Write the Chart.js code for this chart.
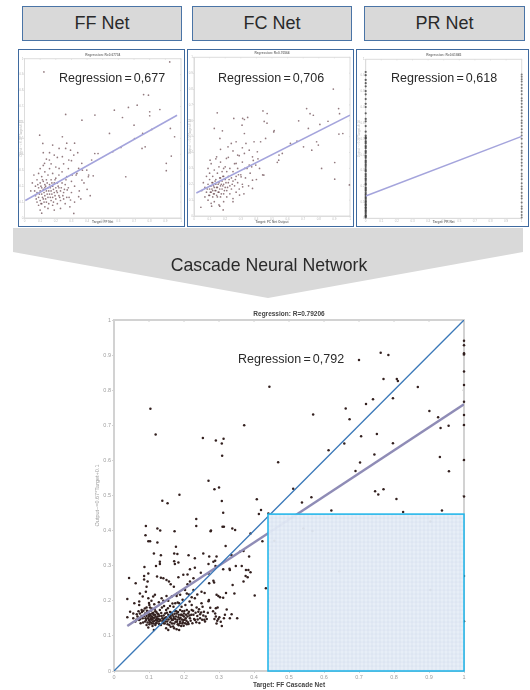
<!DOCTYPE html>
<html>
<head>
<meta charset="utf-8">
<script src="https://cdn.jsdelivr.net/npm/chart.js@4/dist/chart.umd.min.js"></script>
<style>
  html, body { margin: 0; padding: 0; background: #fff; }
  body { width: 530px; height: 690px; position: relative; overflow: hidden; font-family: "Liberation Sans", Arial, sans-serif; color: #1c1c1c; }
  canvas { position: absolute; }
  canvas.small { filter: blur(0.7px); }
  canvas.big { filter: blur(0.45px); }
  .head { position: absolute; top: 6px; height: 33px; box-sizing: content-box; background: #d9d9d9; border: 1.5px solid #4a74a6; font-size: 18px; line-height: 33px; text-align: center; color: #2a2a2a; }
  .panel { position: absolute; top: 48.5px; height: 176px; border: 1.5px solid #3f6a9f; pointer-events: none; }
  .reg { position: absolute; font-size: 12.5px; word-spacing: -1.3px; white-space: nowrap; line-height: 16px; color: #2a2a2a; }
  #arrow { position: absolute; left: 13px; top: 228px; width: 510px; height: 70px; background: #d9d9d9; clip-path: polygon(0 0, 100% 0, 100% 24px, 50% 100%, 0 24px); }
  #arrowText { position: absolute; left: 14px; top: 254px; width: 510px; text-align: center; font-size: 17.7px; line-height: 22px; color: #2a2a2a; }
</style>
</head>
<body>
<div class="head" style="left:22px;width:158px">FF Net</div>
<div class="head" style="left:192px;width:158px">FC Net</div>
<div class="head" style="left:364px;width:159px">PR Net</div>

<canvas id="ffChart" class="small" width="166" height="175" style="left:19px;top:50px"></canvas>
<canvas id="fcChart" class="small" width="166" height="175" style="left:188px;top:50px"></canvas>
<canvas id="prChart" class="small" width="171" height="175" style="left:357px;top:50px"></canvas>
<div class="panel" style="left:18px;width:165px"></div>
<div class="panel" style="left:187px;width:165px"></div>
<div class="panel" style="left:356px;width:171px"></div>

<div class="reg" style="left:59px;top:70px">Regression = 0,677</div>
<div class="reg" style="left:218px;top:70px">Regression = 0,706</div>
<div class="reg" style="left:391px;top:70px">Regression = 0,618</div>

<div id="arrow"></div>
<div id="arrowText">Cascade Neural Network</div>

<canvas id="mainChart" class="big" width="386" height="385" style="left:94px;top:305px"></canvas>
<div class="reg" style="left:238px;top:351px">Regression = 0,792</div>

<script>
const tickValues = [0, 0.1, 0.2, 0.3, 0.4, 0.5, 0.6, 0.7, 0.8, 0.9, 1];
const tickLabels = ['0', '0.1', '0.2', '0.3', '0.4', '0.5', '0.6', '0.7', '0.8', '0.9', '1'];

// main cascade plot
const mainOuter = [
  [.043,.265],[.062,.250],[.086,.271],[.086,.261],[.098,.278],[.096,.255],[.093,.240],[.091,.226],[.038,.205],[.046,.169],
  [.038,.153],[.058,.193],[.055,.164],[.074,.221],[.082,.212],[.072,.198],[.072,.188],[.079,.174],[.098,.207],[.101,.188],
  [.112,.212],[.117,.217],[.091,.413],[.090,.387],[.098,.370],[.103,.370],[.124,.406],[.132,.400],[.124,.366],[.114,.335],
  [.134,.330],[.131,.311],[.131,.305],[.120,.299],[.087,.296],[.123,.269],[.134,.266],[.141,.264],[.138,.485],[.153,.478],
  [.187,.502],[.173,.398],[.177,.354],[.172,.335],[.181,.333],[.235,.433],[.235,.413],[.276,.398],[.277,.400],[.308,.484],
  [.312,.451],[.310,.411],[.314,.411],[.338,.406],[.346,.402],[.319,.356],[.390,.392],[.408,.489],[.420,.459],[.414,.447],
  [.441,.449],[.424,.370],[.434,.236],[.402,.215],[.213,.330],[.231,.321],[.255,.335],[.272,.326],[.270,.305],[.293,.326],
  [.289,.314],[.284,.311],[.290,.299],[.312,.290],[.330,.291],[.331,.288],[.348,.299],[.365,.299],[.336,.330],[.360,.340],
  [.370,.342],[.386,.326],[.377,.288],[.384,.288],[.390,.281],[.376,.271],[.382,.267],[.370,.255],[.339,.245],[.344,.221],
  [.303,.210],[.293,.217],[.298,.214],[.284,.257],[.286,.252],[.270,.278],[.272,.250],[.248,.280],[.250,.226],[.271,.202],
  [.231,.294],[.217,.290],[.210,.275],[.198,.274],[.184,.267],[.172,.313],[.174,.305],[.184,.309],[.150,.259],[.157,.255],
  [.162,.247],[.171,.240],[.227,.264],[.217,.255],[.210,.247],[.181,.221],[.189,.217],[.208,.221],[.214,.218],[.203,.231],
  [.179,.214],[.165,.212],[.150,.214],[.136,.207],[.227,.231],[.222,.210],[.231,.207],[.250,.193],[.270,.199],[.291,.179],
  [.296,.181],[.312,.209]
];
const mainDense = [
  [.084,.172],[.089,.164],[.093,.157],[.098,.169],[.103,.162],[.108,.155],[.112,.166],[.117,.160],[.122,.150],[.127,.162],
  [.131,.174],[.136,.157],[.141,.145],[.146,.164],[.082,.150],[.089,.141],[.093,.131],[.100,.145],[.106,.138],[.110,.128],
  [.114,.117],[.098,.124],[.120,.136],[.128,.141],[.134,.131],[.141,.136],[.149,.153],[.152,.141],[.158,.131],[.162,.157],
  [.168,.145],[.172,.122],[.179,.119],[.186,.117],[.154,.179],[.160,.185],[.170,.183],[.175,.193],[.179,.164],[.184,.153],
  [.189,.141],[.193,.160],[.198,.145],[.203,.136],[.208,.133],[.213,.134],[.217,.150],[.212,.164],[.208,.174],[.204,.188],
  [.222,.174],[.227,.160],[.231,.145],[.236,.181],[.241,.169],[.246,.162],[.253,.183],[.257,.169],[.262,.155],[.260,.141],
  [.246,.150],[.238,.157],[.289,.164],[.291,.155],[.295,.143],[.301,.153],[.308,.128],[.314,.150],[.336,.162],[.352,.150],
  [.331,.150],[.067,.155],[.072,.145],[.065,.162],[.055,.150],[.061,.141],[.074,.164],[.079,.157],[.076,.136],[.149,.122],
  [.155,.117],[.162,.126],[.131,.147],[.124,.164],[.137,.181],[.143,.185],[.149,.174],[.165,.166],[.174,.172],[.189,.174],
  [.193,.183],[.200,.164],[.222,.188],[.186,.193],[.103,.181],[.108,.178],[.116,.176],[.093,.181],[.100,.155],[.105,.150],
  [.110,.147],[.115,.152],[.120,.145],[.102,.140],[.108,.135],[.097,.150],[.112,.141],[.118,.170],[.125,.155],[.095,.165],
  [.090,.150],[.105,.172],[.113,.160],[.122,.137],[.170,.155],[.175,.148],[.180,.140],[.185,.160],[.190,.152],[.195,.170],
  [.200,.155],[.205,.150],[.172,.135],[.178,.170],[.165,.145],[.195,.135],[.185,.130],[.160,.168],[.138,.150],[.145,.135],
  [.150,.148],[.155,.160]
];
// second pass over the dark band
const mainBand = [
  [.092,.145],[.096,.138],[.099,.160],[.101,.133],[.104,.158],[.106,.146],[.109,.164],[.111,.152],[.113,.135],[.116,.143],
  [.118,.131],[.119,.155],[.121,.168],[.123,.143],[.126,.148],[.129,.134],[.130,.157],[.133,.144],[.135,.165],[.139,.141],
  [.142,.158],[.144,.150],[.147,.141],[.151,.166],[.153,.133],[.156,.147],[.159,.154],[.161,.139],[.163,.150],[.166,.135],
  [.167,.160],[.169,.127],[.171,.150],[.173,.163],[.176,.140],[.177,.155],[.181,.146],[.182,.133],[.183,.168],[.187,.148],
  [.188,.136],[.191,.160],[.192,.128],[.194,.147],[.196,.158],[.197,.139],[.199,.129],[.201,.171],[.202,.146],[.206,.160],
  [.207,.143],[.210,.155],[.211,.139],[.214,.169],[.216,.158],[.219,.143],[.221,.160],[.224,.136],[.226,.172],[.229,.148],
  [.233,.166],[.235,.139],[.239,.147],[.243,.176],[.244,.137],[.249,.167],[.252,.146],[.255,.158],[.258,.146],[.265,.148],
  [.268,.166],[.287,.148],[.283,.170],[.293,.135],[.298,.148],[.305,.140],[.317,.160],[.322,.175],[.075,.148],[.070,.170],
  [.064,.146],[.083,.138],[.086,.157],[.080,.168],[.088,.178],[.094,.172],[.100,.194],[.107,.200],[.115,.190],[.128,.196],
  [.141,.200],[.155,.200],[.167,.192],[.182,.195],[.196,.203],[.216,.198],[.238,.218],[.259,.222],[.275,.180],[.320,.222]
];
const mainUpper = [
  [.762,.907],[.784,.900],[.700,.886],[.770,.832],[.808,.832],[.811,.826],[.868,.809],[.797,.777],[.740,.774],[.720,.761],
  [.662,.748],[.901,.741],[.926,.723],[.569,.731],[.673,.717],[.933,.692],[.956,.699],[.706,.669],[.751,.675],[.658,.648],
  [.797,.649],[.613,.629],[.744,.617],[.931,.610],[.469,.595],[.703,.594],[.690,.570],[.957,.569],[.512,.519],[.746,.512],
  [.755,.503],[.770,.518],[.807,.490],[.564,.495],[.537,.480],[.621,.457],[.826,.453],[.937,.457],[.104,.747],[.119,.674],
  [.254,.664],[.291,.657],[.308,.648],[.313,.662],[.309,.613],[.270,.542],[.287,.518],[.300,.523],[.444,.810],[.372,.700],
  [.458,.371],[.541,.406],[.567,.399],[.644,.284],[.904,.426],[.904,.231]
];
const mainEdge = [
  [1,.941],[1,.928],[1,.905],[1,.902],[1,.853],[1,.815],[1,.767],[1,.729],[1,.701],[1,.601],[1,.497],[1,.271],[1,.142]
];
const mainFitX = [0.038, 1];
const mainFitY = [0.128, 0.76];
const idealX = [0, 1];
const idealY = [0, 1];
const shadeX = [0.44, 1];
const shadeY = [0, 0.447];

// FF Net panel
const ffPoints = [
  [.124,.917],[.263,.650],[.367,.614],[.450,.646],[.574,.677],[.664,.694],[.720,.708],[.865,.681],[.800,.667],[.800,.642],
  [.626,.631],[.700,.583],[.703,.499],[.755,.531],[.813,.556],[.932,.562],[.959,.510],[.751,.437],[.771,.447],[.938,.389],
  [.906,.343],[.906,.297],[.761,.775],[.792,.771],[.928,.980],[.543,.531],[.564,.416],[.616,.443],[.647,.259],[.470,.405],
  [.449,.405],[.429,.364],[.366,.343],[.346,.311],[.398,.301],[.408,.259],[.439,.265],[.346,.134],[.315,.029],[.294,.113],
  [.273,.176],[.367,.238],[.335,.280],[.242,.510],[.097,.520],[.117,.468],[.180,.458],[.221,.437],[.263,.437],[.294,.426],
  [.315,.395],[.283,.364],[.242,.385],[.190,.395],[.159,.364],[.128,.343],[.221,.311],
  [.04,.17],[.05,.22],[.06,.27],[.07,.14],[.07,.20],[.08,.10],[.08,.16],[.08,.24],[.09,.08],[.09,.13],[.09,.19],[.09,.28],
  [.10,.05],[.10,.11],[.10,.17],[.10,.22],[.10,.31],[.11,.03],[.11,.09],[.11,.15],[.11,.19],[.11,.26],[.12,.12],[.12,.18],
  [.12,.23],[.12,.33],[.13,.07],[.13,.14],[.13,.19],[.13,.21],[.13,.29],[.14,.10],[.14,.17],[.14,.24],[.14,.37],[.15,.06],
  [.15,.13],[.15,.19],[.15,.27],[.16,.15],[.16,.21],[.16,.31],[.17,.11],[.17,.17],[.17,.24],[.17,.34],[.18,.08],[.18,.13],
  [.18,.20],[.18,.28],[.19,.05],[.19,.16],[.19,.22],[.20,.12],[.20,.19],[.20,.25],[.20,.32],[.21,.09],[.21,.16],[.21,.22],
  [.22,.14],[.22,.19],[.22,.27],[.23,.06],[.23,.11],[.23,.17],[.24,.22],[.24,.29],[.25,.12],[.25,.16],[.25,.34],[.26,.09],
  [.26,.21],[.27,.13],[.27,.26],[.28,.19],[.28,.31],[.29,.07],[.30,.16],[.30,.23],[.32,.10],[.32,.20],[.33,.27],[.35,.17],
  [.36,.12],[.38,.22],[.40,.18],[.42,.14],
  [.065,.17],[.075,.12],[.085,.21],[.095,.15],[.105,.09],[.105,.20],[.115,.13],[.115,.24],[.125,.16],[.125,.10],[.135,.20],
  [.135,.12],[.145,.15],[.145,.22],[.155,.09],[.155,.17],[.165,.19],[.165,.13],[.175,.22],[.175,.15],[.185,.18],[.185,.10],
  [.195,.14],[.195,.24],[.205,.17],[.215,.20],[.225,.13],[.235,.19],[.245,.14],[.255,.18],[.265,.24],[.285,.13],[.305,.27],
  [.37,.30],[.41,.27],[.30,.36],[.34,.41],[.21,.38],[.16,.41],[.27,.47],[.32,.47],[.12,.41]
];
const ffFitX = [0.005, 0.975];
const ffFitY = [0.11, 0.645];

// FC Net panel
const fcPoints = [
  [.149,.650],[.255,.615],[.312,.615],[.344,.621],[.130,.552],[.308,.572],[.323,.608],[.442,.662],[.469,.646],[.511,.530],
  [.166,.489],[.182,.537],[.323,.520],[.270,.468],[.333,.457],[.385,.468],[.427,.468],[.459,.489],[.239,.457],[.218,.436],
  [.354,.415],[.406,.405],[.375,.373],[.323,.394],[.280,.384],[.145,.373],[.103,.352],[.208,.363],[.270,.331],[.354,.321],
  [.396,.321],[.448,.258],[.375,.226],[.302,.247],[.543,.352],[.044,.055],[.187,.038],[.113,.062],[.165,.062],[.375,.174],
  [.312,.184],[.292,.132],[.250,.090],[.893,.800],[.927,.677],[.933,.645],[.722,.677],[.744,.645],[.765,.635],[.671,.600],
  [.733,.552],[.807,.577],[.859,.597],[.514,.538],[.450,.596],[.468,.585],[.929,.516],[.954,.520],[.618,.457],[.702,.436],
  [.755,.415],[.786,.468],[.797,.447],[.660,.472],[.566,.394],[.545,.384],[.534,.338],[.902,.337],[.902,.232],[.996,.196],
  [.440,.259],[.818,.300],
  [.05,.16],[.06,.21],[.07,.12],[.07,.18],[.08,.25],[.08,.15],[.09,.20],[.09,.10],[.09,.30],[.10,.17],[.10,.13],[.10,.23],
  [.10,.27],[.11,.19],[.11,.08],[.11,.15],[.11,.33],[.12,.21],[.12,.16],[.12,.12],[.12,.25],[.13,.18],[.13,.14],[.13,.29],
  [.13,.09],[.14,.20],[.14,.16],[.14,.36],[.14,.23],[.15,.12],[.15,.18],[.15,.27],[.16,.15],[.16,.21],[.16,.31],[.16,.07],
  [.17,.19],[.17,.24],[.17,.12],[.17,.34],[.18,.17],[.18,.22],[.18,.28],[.19,.14],[.19,.20],[.19,.25],[.19,.09],[.20,.18],
  [.20,.23],[.20,.31],[.21,.16],[.21,.28],[.21,.12],[.22,.21],[.22,.25],[.22,.37],[.23,.19],[.23,.14],[.23,.30],[.24,.24],
  [.24,.17],[.25,.22],[.25,.28],[.25,.11],[.26,.33],[.26,.19],[.27,.25],[.27,.15],[.28,.21],[.28,.30],[.29,.38],[.29,.17],
  [.30,.26],[.31,.20],[.31,.34],[.32,.14],[.33,.24],[.34,.30],[.35,.19],[.36,.27],[.38,.35],[.40,.23],[.42,.30],
  [.085,.17],[.095,.13],[.105,.19],[.105,.15],[.115,.21],[.115,.17],[.125,.14],[.125,.19],[.135,.16],[.135,.22],[.145,.18],
  [.145,.13],[.155,.20],[.155,.15],[.165,.17],[.165,.24],[.175,.14],[.175,.20],[.185,.25],[.185,.19],[.195,.16],[.205,.21],
  [.215,.18],[.225,.23],[.245,.20],[.265,.23],[.285,.26],[.325,.30],[.37,.31],[.41,.36],[.17,.42],[.25,.41],[.31,.43],[.19,.30]
];
const fcFitX = [0.015, 1];
const fcFitY = [0.145, 0.635];

// PR Net panel: outputs pile up at target 0 and target 1
const prLeftY = [
  .005,.012,.02,.03,.038,.05,.058,.07,.08,.09,.098,.11,.12,.135,.145,.16,.172,.18,.195,.21,.222,.235,.25,.262,.28,.295,
  .31,.322,.34,.35,.365,.38,.395,.41,.425,.44,.455,.47,.485,.5,.51,.52,.545,.58,.61,.625,.66,.70,.72,.75,.78,.80,.83,.85,.87,.90,.92,
  .015,.045,.065,.085,.105,.128,.152,.188,.215,.245,.272,.302,.332,.358,.388,.418,.448,.478,.505
];
const prRightY = [
  .005,.02,.04,.06,.075,.1,.125,.14,.16,.185,.2,.22,.245,.265,.28,.305,.33,.35,.37,.39,.41,.425,.45,.47,.5,.52,.54,.56,.58,
  .6,.615,.64,.66,.68,.7,.72,.74,.755,.78,.8,.82,.84,.86,.875,.89,.905
];
const prFitX = [0, 1];
const prFitY = [0.14, 0.515];

const toXY = rows => rows.map(r => ({ x: r[0], y: r[1] }));
const zipXY = (xs, ys) => xs.map((x, i) => ({ x: x, y: ys[i] }));

// grey box round the plot with the little inner ticks along the top
const framePlugin = {
  id: 'frame',
  beforeDatasetsDraw(chart, args, opts) {
    const { ctx, chartArea: a, scales } = chart;
    ctx.save();
    ctx.strokeStyle = opts.color;
    ctx.lineWidth = opts.width;
    ctx.strokeRect(a.left, a.top, a.right - a.left, a.bottom - a.top);
    ctx.lineWidth = 1;
    ctx.beginPath();
    tickValues.forEach(v => {
      const px = scales.x.getPixelForValue(v);
      ctx.moveTo(px, a.top);
      ctx.lineTo(px, a.top + opts.tick);
      const py = scales.y.getPixelForValue(v);
      ctx.moveTo(a.right, py);
      ctx.lineTo(a.right - opts.tick, py);
    });
    ctx.stroke();
    ctx.restore();
  }
};

// the pale squared box over the lower right of the main plot
const shadePlugin = {
  id: 'shade',
  afterDatasetsDraw(chart) {
    if (chart.canvas.id !== 'mainChart') return;
    const { ctx, scales } = chart;
    const x0 = scales.x.getPixelForValue(shadeX[0]);
    const x1 = scales.x.getPixelForValue(shadeX[1]);
    const y0 = scales.y.getPixelForValue(shadeY[1]);
    const y1 = scales.y.getPixelForValue(shadeY[0]);
    ctx.save();
    ctx.fillStyle = 'rgba(230,237,247,0.94)';
    ctx.fillRect(x0, y0, x1 - x0, y1 - y0);
    ctx.strokeStyle = 'rgba(205,218,238,0.8)';
    ctx.lineWidth = 0.5;
    ctx.beginPath();
    for (let x = x0; x < x1; x += 4) { ctx.moveTo(x, y0); ctx.lineTo(x, y1); }
    for (let y = y0; y < y1; y += 4) { ctx.moveTo(x0, y); ctx.lineTo(x1, y); }
    ctx.stroke();
    ctx.strokeStyle = '#1db5ea';
    ctx.lineWidth = 1.5;
    ctx.strokeRect(x0, y0, x1 - x0, y1 - y0);
    ctx.restore();
  }
};

function makeChart(id, datasets, text, look) {
  const canvas = document.getElementById(id);
  const axis = (isX) => ({
    type: 'linear',
    min: 0,
    max: 1,
    afterBuildTicks: s => { s.ticks = tickValues.map(v => ({ value: v })); },
    afterFit: s => {
      if (isX) s.height = canvas.height - look.bottom;
      else s.width = look.left;
    },
    grid: { drawOnChartArea: false, drawTicks: true, tickLength: look.tick, color: look.frame },
    border: { color: look.frame, width: look.axisWidth },
    ticks: {
      autoSkip: false,
      maxRotation: 0,
      minRotation: 0,
      padding: look.tickPad,
      color: look.tickColor,
      font: { size: look.tickFont, family: 'Liberation Sans' },
      callback: (v) => tickLabels[tickValues.indexOf(v)]
    },
    title: {
      display: true,
      text: isX ? text.x : text.y,
      color: isX ? look.titleColor : look.tickColor,
      font: { size: isX ? look.titleFont : look.tickFont, weight: isX ? 'bold' : 'normal', family: 'Liberation Sans' },
      padding: { top: 0, bottom: 1 }
    }
  });
  return new Chart(canvas, {
    type: 'scatter',
    data: { datasets: datasets },
    options: {
      responsive: false,
      animation: false,
      layout: { padding: { right: canvas.width - look.right } },
      plugins: {
        legend: { display: false },
        tooltip: { enabled: false },
        frame: { color: look.frame, width: look.axisWidth, tick: look.tick },
        title: {
          display: true,
          fullSize: false,
          text: text.title,
          color: look.titleColor,
          font: { size: look.titleFont, weight: 'bold', family: 'Liberation Sans' },
          padding: { top: look.top - look.titleFont * 1.2 - 2, bottom: 2 }
        }
      },
      scales: { x: axis(true), y: axis(false) }
    },
    plugins: [framePlugin, shadePlugin]
  });
}

function pointSet(rows, color, radius) {
  return { data: rows, pointRadius: radius, pointBackgroundColor: color, pointBorderWidth: 0, order: 1, clip: false };
}
function lineSet(xs, ys, color, width, order) {
  return { data: zipXY(xs, ys), showLine: true, pointRadius: 0, borderColor: color, borderWidth: width, order: order };
}

const smallDot = 'rgba(100,65,72,0.7)';
const smallFit = '#a4a4dc';
const smallLook = { tick: 1, axisWidth: 1, tickPad: 0, tickFont: 3, titleFont: 3.2, frame: '#dcdcdc', tickColor: '#bdbdbd', titleColor: '#777' };

makeChart('ffChart',
  [lineSet(ffFitX, ffFitY, smallFit, 1.5, 0), pointSet(toXY(ffPoints), smallDot, 0.85)],
  { title: 'Regression: R=0.67734', x: 'Target: FF Net', y: 'Output ~= 0.55*Target+0.11' },
  Object.assign({ left: 5.5, right: 166, top: 8.7, bottom: 168 }, smallLook));

makeChart('fcChart',
  [lineSet(fcFitX, fcFitY, smallFit, 1.5, 0), pointSet(toXY(fcPoints), smallDot, 0.85)],
  { title: 'Regression: R=0.70564', x: 'Target: FC Net Output', y: 'Output ~= 0.5*Target+0.14' },
  Object.assign({ left: 6, right: 166, top: 7.3, bottom: 166 }, smallLook));

makeChart('prChart',
  [lineSet(prFitX, prFitY, smallFit, 1.5, 0),
   pointSet(zipXY(prLeftY.map(() => 0), prLeftY), 'rgba(60,60,60,0.8)', 1.1),
   pointSet(zipXY(prRightY.map(() => 1), prRightY), 'rgba(80,80,80,0.7)', 1)],
  { title: 'Regression: R=0.61845', x: 'Target: PR Net', y: 'Output ~= 0.38*Target+0.14' },
  Object.assign({ left: 8.7, right: 164.7, top: 9.3, bottom: 168.3 }, smallLook));

makeChart('mainChart',
  [lineSet(idealX, idealY, '#3a78b8', 1.3, 0),
   lineSet(mainFitX, mainFitY, '#8f8cb6', 2.4, 1),
   pointSet(toXY(mainOuter.concat(mainDense, mainBand, mainUpper, mainEdge)), '#33201f', 1.25)],
  { title: 'Regression: R=0.79206', x: 'Target: FF Cascade Net', y: 'Output~=0.67*Target+0.1' },
  { left: 20, right: 370, top: 15, bottom: 366, tick: 2, axisWidth: 2, tickPad: 1, tickFont: 5.5, titleFont: 6.5, frame: '#d2d2d2', tickColor: '#a0a0a0', titleColor: '#444' });
</script>
</body>
</html>
